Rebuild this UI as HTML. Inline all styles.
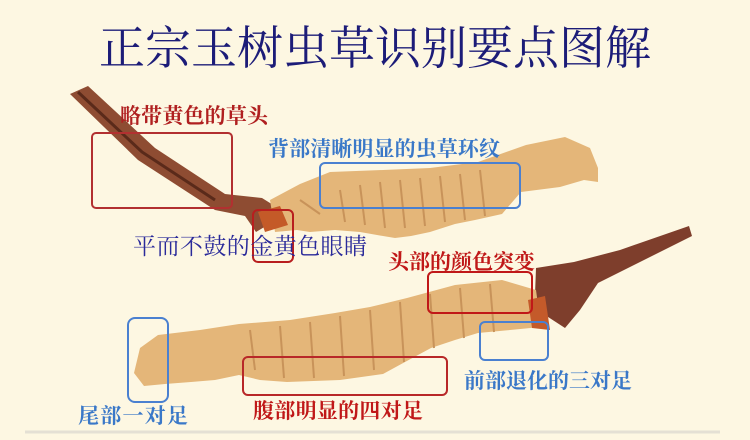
<!DOCTYPE html>
<html><head><meta charset="utf-8"><style>
html,body{margin:0;padding:0;background:#fdf7e2;}
svg{display:block}
</style></head><body>
<svg width="750" height="440" viewBox="0 0 750 440" xmlns="http://www.w3.org/2000/svg">
<rect width="750" height="440" fill="#fdf7e2"/>
<text x="375" y="64" text-anchor="middle" font-family="'Liberation Serif','Noto Serif CJK SC',serif" font-size="46" fill="#1c1c78">正宗玉树虫草识别要点图解</text>
<line x1="25" y1="432" x2="720" y2="432" stroke="#e4e0d4" stroke-width="3"/>
<!-- upper stem -->
<path d="M70,94 L88,86 L155,148 L225,194 L262,198 L278,208 L266,226 L256,232 L245,216 L215,210 L138,160 Z" fill="#8e4c32"/>
<path d="M78,92 L142,152 L215,200" stroke="#5a2a1a" stroke-width="3" fill="none"/>
<!-- upper worm -->
<path d="M270,200 L300,184 L330,172 L383,170 L430,168 L478,162 L526,145 L565,137 L590,148 L598,168 L598,182 L584,180 L560,187 L521,192 L502,214 L475,220 L455,224 L430,232 L411,236 L395,238 L383,236 L360,232 L335,230 L310,232 L297,230 L275,232 Z" fill="#e4b679"/>
<path d="M300,200 L320,214 M340,190 L345,222 M360,185 L365,225 M380,182 L385,228 M400,180 L405,228 M420,178 L425,226 M440,176 L445,222 M460,174 L465,220 M480,170 L485,216" stroke="#c8935a" stroke-width="2" fill="none"/>
<path d="M258,212 L280,206 L288,225 L265,232 Z" fill="#c45a28"/>
<!-- lower stalk -->
<path d="M536,268 L574,262 L620,250 L689,226 L692,236 L684,240 L640,262 L598,283 L580,310 L565,328 L545,315 L535,295 Z" fill="#7e3e2c"/>
<!-- lower worm -->
<path d="M134,373 L140,348 L158,335 L200,330 L239,324 L290,320 L335,313 L370,307 L407,298 L455,285 L502,280 L536,290 L541,327 L510,330 L478,333 L455,340 L431,348 L405,362 L383,374 L340,380 L287,382 L260,380 L239,375 L215,380 L191,382 L165,384 L144,386 Z" fill="#e4b679"/>
<path d="M250,330 L255,370 M280,326 L284,378 M310,322 L314,378 M340,316 L344,376 M370,310 L374,370 M400,302 L404,362 M430,294 L434,348 M460,288 L464,338 M490,284 L494,332" stroke="#c8935a" stroke-width="2" fill="none"/>
<path d="M528,300 L545,296 L550,330 L532,328 Z" fill="#c45a2a"/>
<!-- boxes -->
<g fill="none" stroke-width="2">
<rect x="92" y="133" width="140" height="75" rx="4" stroke="#b23030"/>
<rect x="320" y="163" width="200" height="45" rx="5" stroke="#4a80d0"/>
<rect x="253" y="210" width="40" height="52" rx="5" stroke="#b81e1e"/>
<rect x="428" y="272" width="104" height="41" rx="5" stroke="#c01818"/>
<rect x="128" y="318" width="40" height="84" rx="7" stroke="#4a80d0"/>
<rect x="480" y="322" width="68" height="38" rx="5" stroke="#4a80d0"/>
<rect x="243" y="357" width="204" height="38" rx="5" stroke="#b82828"/>
</g>
<g font-family="'Liberation Serif','Noto Serif CJK SC',serif" font-weight="bold" font-size="21">
<text x="120" y="123" fill="#b02020" textLength="148">略带黄色的草头</text>
<text x="268" y="156" fill="#3a78c8" textLength="232">背部清晰明显的虫草环纹</text>
<text x="388" y="269" fill="#c01818" textLength="147">头部的颜色突变</text>
<text x="464" y="388" fill="#3a78c8" textLength="168">前部退化的三对足</text>
<text x="78" y="423" fill="#3a78c8" textLength="110">尾部一对足</text>
<text x="253" y="418" fill="#c01818" textLength="170">腹部明显的四对足</text>
</g>
<text x="133" y="254" font-family="'Liberation Serif','Noto Serif CJK SC',serif" font-size="23" fill="#2a2a9a" textLength="234">平而不鼓的金黄色眼睛</text>
</svg>
</body></html>
